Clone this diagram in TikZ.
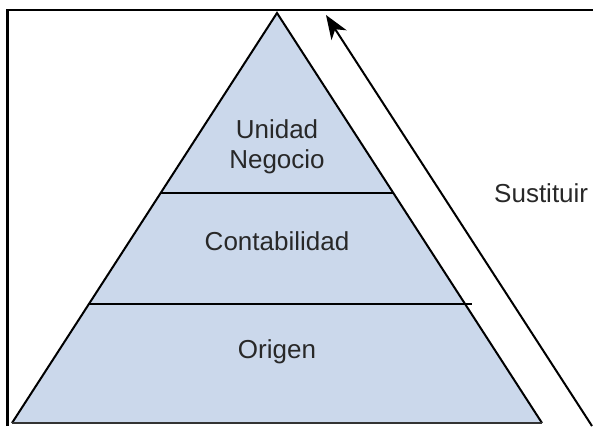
\documentclass[tikz,border=0pt]{standalone}
\usepackage{fontspec}
\setmainfont{Liberation Sans}
\usetikzlibrary{arrows.meta,positioning,calc}
\definecolor{capa}{RGB}{203,216,235}
\definecolor{texto}{RGB}{40,40,40}

\begin{document}
\begin{tikzpicture}[x=1pt,y=-1pt,
    etiqueta/.style={font=\fontsize{26}{30}\selectfont, text=texto, inner sep=0pt, align=center},
    borde/.style={line width=2pt}]
      \useasboundingbox (0,0) rectangle (593,426);

      % marco
      \draw[line width=2.4pt] (7.5,426) -- (7.5,10) -- (593,10);

      % piramide
      \coordinate (cima) at (277,13);
      \coordinate (izq) at (12,423);
      \coordinate (der) at (542,423);
      \fill[capa] (cima) -- (der) -- (izq) -- cycle;

      \coordinate (c1i) at ($(cima)!0.439!(izq)$);
      \coordinate (c1d) at ($(cima)!0.439!(der)$);
      \coordinate (c2i) at ($(cima)!0.71!(izq)$);
      \coordinate (c2d) at ($(cima)!0.71!(der)+(7,0)$);

      \draw[borde] (c1i) -- (c1d);
      \draw[borde] (c2i) -- (c2d);
      \draw[borde] (izq) -- (cima) -- (der);
      \draw[line width=2.6pt, black!80] (izq) -- (der);

      \node[etiqueta] (unidad) at (277,146.5) {Unidad\\Negocio};
      \node[etiqueta, anchor=base] (conta) at (277,250) {Contabilidad};
      \node[etiqueta, anchor=base] (origen) at (277,358) {Origen};

      % flecha
      \coordinate (cola) at (592,426);
      \coordinate (punta) at (326,15);
      \draw[borde, -{Stealth[length=24pt,width=18pt,inset=7pt]}] (cola) -- (punta);
      \node[etiqueta, anchor=base west] (sust) at (494,202) {Sustituir};
    \end{tikzpicture}
\end{document}
